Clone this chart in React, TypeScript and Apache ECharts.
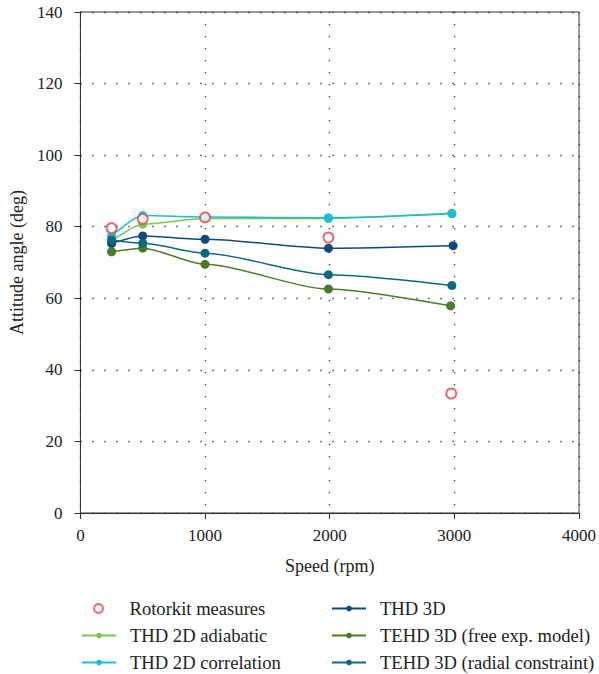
import React, { useEffect, useRef } from "react";
import * as echarts from "echarts";

// Speeds (rpm) at which each model / measurement was evaluated
const rotorkitSpeed = [250, 500, 1000, 1990, 2975];
const rotorkitAngle = [79.6, 82.2, 82.6, 77.0, 33.4];

const adiabaticSpeed = [250, 500, 1000, 1990, 2980];
const adiabaticAngle = [76.0, 80.7, 82.3, 82.3, 83.8];

const correlationSpeed = [250, 500, 1000, 1990, 2980];
const correlationAngle = [77.4, 83.1, 82.7, 82.5, 83.6];

const thd3dSpeed = [250, 500, 1000, 1990, 2990];
const thd3dAngle = [75.3, 77.4, 76.5, 74.0, 74.7];

const tehdFreeSpeed = [250, 500, 1000, 1990, 2970];
const tehdFreeAngle = [73.0, 74.0, 69.5, 62.6, 57.9];

const tehdRadialSpeed = [250, 500, 1000, 1990, 2980];
const tehdRadialAngle = [76.3, 75.4, 72.6, 66.6, 63.6];

const xTicks = [0, 1000, 2000, 3000, 4000];
const yTicks = [0, 20, 40, 60, 80, 100, 120, 140];

// legend layout: two columns of three entries
const legendLeftColumn = ["Rotorkit measures", "THD 2D adiabatic", "THD 2D correlation"];
const legendRightColumn = ["THD 3D", "TEHD 3D (free exp. model)", "TEHD 3D (radial constraint)"];

const FONT = "Liberation Serif";
const TEXT = "#222";

const pair = (xs: number[], ys: number[]) => xs.map((x, i) => [x, ys[i]]);

const lineSeries = (name: string, color: string, xs: number[], ys: number[]) => ({
  name,
  type: "line",
  data: pair(xs, ys),
  smooth: 0.25,
  smoothMonotone: "x",
  symbol: "circle",
  symbolSize: 9,
  lineStyle: { color, width: 1.5 },
  itemStyle: { color },
});

const legendItem = (name: string, left: number, top: number) => {
  const isScatter = name === legendLeftColumn[0];
  return {
    orient: "horizontal",
    left: isScatter ? left + 12 : left,
    top,
    padding: 0,
    itemWidth: isScatter ? 10 : 34,
    itemHeight: isScatter ? 9 : 7,
    itemGap: 0,
    textStyle: {
      fontFamily: FONT,
      fontSize: 18.6,
      color: TEXT,
      padding: [0, 0, 0, isScatter ? 21 : 9],
    },
    data: [name],
  };
};

export default function App() {
  const ref = useRef<HTMLDivElement>(null);

  useEffect(() => {
    if (!ref.current) return;
    const chart = echarts.init(ref.current, undefined, { renderer: "svg" });
    const dotted = { color: "#333", width: 1.3, type: [1.3, 10.7] };
    const rowTop = [599, 626, 653];
    chart.setOption({
      animation: false,
      textStyle: { fontFamily: FONT },
      grid: {
        left: 80,
        right: 19,
        top: 12,
        bottom: 161,
        show: true,
        borderColor: "#333",
        borderWidth: 1,
        backgroundColor: "transparent",
      },
      xAxis: {
        type: "value",
        min: xTicks[0],
        max: xTicks[xTicks.length - 1],
        interval: 1000,
        name: "Speed (rpm)",
        nameLocation: "middle",
        nameGap: 44,
        nameTextStyle: { fontFamily: FONT, fontSize: 18, color: TEXT },
        axisLine: { lineStyle: { color: "#333", width: 1 } },
        axisTick: { show: true, length: 6, inside: false, lineStyle: { color: "#333" } },
        axisLabel: { fontFamily: FONT, fontSize: 17, color: TEXT, margin: 14, formatter: (v: number) => String(v) },
        splitLine: { show: true, lineStyle: dotted },
      },
      yAxis: {
        type: "value",
        min: yTicks[0],
        max: yTicks[yTicks.length - 1],
        interval: 20,
        name: "Attitude angle (deg)",
        nameLocation: "middle",
        nameGap: 52,
        nameTextStyle: { fontFamily: FONT, fontSize: 18, color: TEXT },
        axisLine: { show: true, lineStyle: { color: "#333", width: 1 } },
        axisTick: { show: true, length: 6, inside: false, lineStyle: { color: "#333" } },
        axisLabel: { fontFamily: FONT, fontSize: 17, color: TEXT, margin: 18, formatter: (v: number) => String(v) },
        splitLine: { show: true, lineStyle: dotted },
      },
      legend: [
        ...legendLeftColumn.map((n, i) => legendItem(n, 81, rowTop[i])),
        ...legendRightColumn.map((n, i) => legendItem(n, 331, rowTop[i])),
      ],
      series: [
        lineSeries("THD 2D adiabatic", "#7cc455", adiabaticSpeed, adiabaticAngle),
        lineSeries("THD 2D correlation", "#1dbcd6", correlationSpeed, correlationAngle),
        lineSeries("THD 3D", "#0f4a7c", thd3dSpeed, thd3dAngle),
        lineSeries("TEHD 3D (free exp. model)", "#4b7a2b", tehdFreeSpeed, tehdFreeAngle),
        lineSeries("TEHD 3D (radial constraint)", "#0b6b7e", tehdRadialSpeed, tehdRadialAngle),
        {
          name: "Rotorkit measures",
          type: "scatter",
          data: pair(rotorkitSpeed, rotorkitAngle),
          symbol: "emptyCircle",
          symbolSize: 10,
          z: 5,
          itemStyle: { color: "#e0474c", borderWidth: 1.5 },
        },
      ],
    });
    return () => chart.dispose();
  }, []);

  return <div ref={ref} style={{ width: 599, height: 674, position: "absolute", left: 0, top: 0 }} />;
}
